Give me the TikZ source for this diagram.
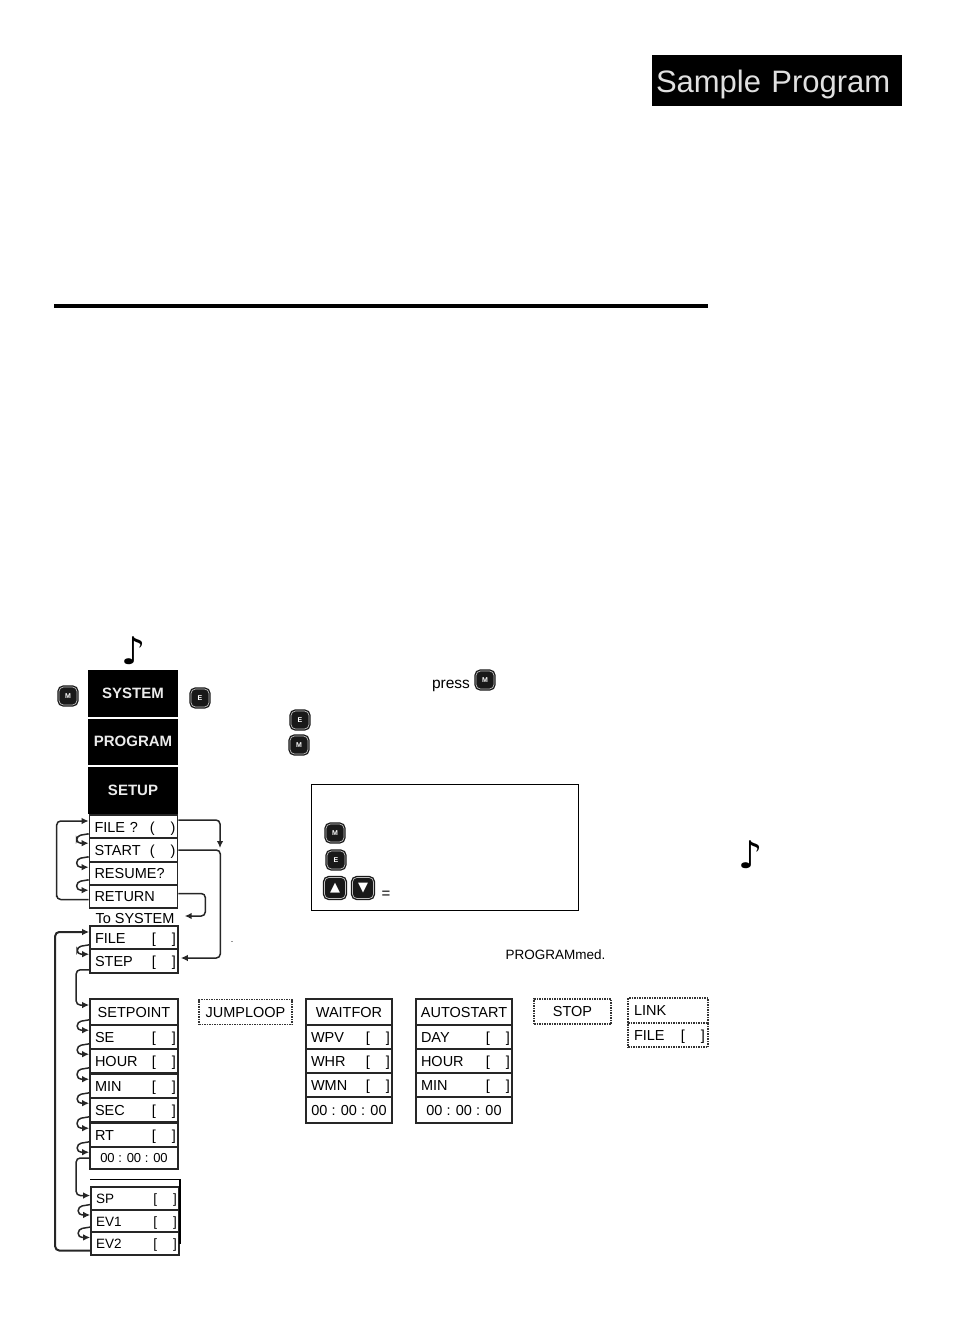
\documentclass[tikz,border=0pt]{standalone}
\usepackage{fontspec}
\setmainfont{Liberation Sans}
\newfontfamily\symbfont{DejaVu Sans}
\usetikzlibrary{arrows.meta,positioning,calc}
\newcommand{\fsz}[1]{\fontsize{#1}{#1}\selectfont}
\newcommand{\rowtxt}[1]{\hspace*{3pt}#1\hfill[\hspace{16pt}]}
\tikzset{
  menuarr/.style={-{Latex[length=7pt,width=6.5pt]}, line width=1.5pt, draw=black!85, rounded corners=4pt},
  blackbox/.style={fill=black, text=black!8, minimum width=90pt, inner sep=0pt, font=\fsz{15}\bfseries},
  rowbox/.style={draw=black!85, line width=1.6pt, fill=white, minimum width=88pt, minimum height=24pt, inner sep=0pt},
  valbox/.style={rowbox, text width=84pt, text height=11pt, text depth=1pt, font=\fsz{14.5}},
  headbox/.style={rowbox, align=center, font=\fsz{14.5}},
  dotbox/.style={draw=black!80, line width=1.5pt, densely dotted, minimum height=25pt, inner sep=0pt, font=\fsz{14.5}},
  keycap/.style={draw=black!90, double=black!25, double distance=0.7pt, line width=1.3pt, fill=black!90, rounded corners=4.5pt, minimum size=18pt, inner sep=0pt, text=white, font=\fsz{7}\bfseries},
  plain/.style={inner sep=0pt, text=black},
}
\begin{document}
\begin{tikzpicture}[x=1pt, y=-1pt]
  \useasboundingbox (0,0) rectangle (961,1332);
  \node[fill=black, text=black!12, minimum width=250pt, minimum height=51pt, inner sep=0pt, text width=242pt, text height=24pt, text depth=0pt, font=\fsz{31}] (title) at (777,80.5) {Sample Program};
  \coordinate (ruleL) at (54,306);
  \coordinate (ruleR) at (708,306);
  \draw[line width=4pt] (ruleL) -- (ruleR);

  \node[plain, font=\symbfont\fsz{38}] (noteA) at (134,651) {♪};
  \node[plain, font=\symbfont\fsz{38}] (noteB) at (751,855) {♪};

  \node[blackbox, minimum height=46.5pt] (system) at (133,693.25) {SYSTEM};
  \node[blackbox, minimum height=46.5pt] (program) at (133,741.75) {PROGRAM};
  \node[blackbox, minimum height=47pt] (setup) at (133,790) {SETUP};
  \node[keycap] (keyM) at (68,696) {M};
  \node[keycap] (keyE) at (200,698) {E};

  \foreach \nm/\lbl/\yy in {fileq/{FILE ?}/827, start/START/850} {
    \node[valbox] (\nm) at (133.5,\yy) {\hspace*{3pt}\lbl\hfill(\hspace{16pt})};
  }
  \node[valbox, minimum height=23pt] (resume) at (133.5,873.5) {\hspace*{3pt}RESUME?};
  \node[valbox, minimum height=23pt] (return) at (133.5,896.5) {\hspace*{3pt}RETURN};
  \node[plain, font=\fsz{14.5}] (tosys) at (135,918) {To SYSTEM};

  \foreach \nm/\lbl/\yy in {file/FILE/938, stepval/STEP/961} {
    \node[valbox] (\nm) at (134,\yy) {\rowtxt{\lbl}};
  }

  \node[headbox, minimum height=26pt] (setpoint) at (134,1012) {SETPOINT};
  \foreach \nm/\lbl/\yy in {se/SE/1037, hour/HOUR/1061, min/MIN/1086, sec/SEC/1110, rt/RT/1135} {
    \node[valbox] (\nm) at (134,\yy) {\rowtxt{\lbl}};
  }
  \node[headbox, minimum height=22pt, font=\fsz{13}] (time) at (134,1158) {00 : 00 : 00};

  \foreach \nm/\lbl/\yy in {sp/SP/1198.5, evA/EV1/1221, evB/EV2/1243.5} {
    \node[valbox, minimum height=22.5pt, font=\fsz{13.5}] (\nm) at (135,\yy) {\rowtxt{\lbl}};
  }
  \draw[line width=1.8pt] ([yshift=7pt]sp.north west) -| (evB.east);

  \node[headbox, minimum width=86pt, minimum height=26pt] (waitfor) at (349,1012) {WAITFOR};
  \foreach \nm/\lbl/\yy in {wpv/WPV/1037, whr/WHR/1061, wmn/WMN/1085} {
    \node[valbox, minimum width=86pt, text width=82pt] (\nm) at (349,\yy) {\rowtxt{\lbl}};
  }
  \node[headbox, minimum width=86pt, minimum height=26pt] (waittime) at (349,1110) {00 : 00 : 00};

  \node[headbox, minimum width=96pt, minimum height=26pt] (autostart) at (464,1012) {AUTOSTART};
  \foreach \nm/\lbl/\yy in {day/DAY/1037, ahour/HOUR/1061, amin/MIN/1085} {
    \node[valbox, minimum width=96pt, text width=92pt] (\nm) at (464,\yy) {\rowtxt{\lbl}};
  }
  \node[headbox, minimum width=96pt, minimum height=26pt] (autotime) at (464,1110) {00 : 00 : 00};

  \node[dotbox, minimum width=93pt] (jumploop) at (245.5,1012) {JUMPLOOP};
  \node[dotbox, minimum width=77pt] (stop) at (572.5,1011.5) {STOP};
  \node[dotbox, minimum width=80pt, text width=74pt, text height=11pt, text depth=1pt] (link) at (668,1010.5) {\hspace*{3pt}LINK};
  \node[dotbox, minimum width=80pt, minimum height=24pt, text width=74pt, text height=11pt, text depth=1pt] (linkfile) at (668,1035) {\rowtxt{FILE}};

  \node[plain, font=\fsz{15.5}] (press) at (451,686) {press};
  \node[keycap] (keyP) at (485,680) {M};
  \node[keycap] (keyF) at (300,720) {E};
  \node[keycap] (keyG) at (299,745) {M};

  \node[draw=black, line width=0.9pt, minimum width=267pt, minimum height=126pt, inner sep=0pt] (frame) at (444.5,847) {};
  \node[keycap] (keyH) at (335,833) {M};
  \node[keycap] (keyI) at (336,860) {E};
  \node[keycap, minimum size=21pt, font=\symbfont\fsz{13}] (keyUp) at (335,888) {▲};
  \node[keycap, minimum size=21pt, font=\symbfont\fsz{13}] (keyDn) at (363,888) {▼};
  \node[plain, font=\fsz{15}] (equal) at (386,895) {=};

  \node[plain, font=\fsz{13.5}] (programmed) at (555.5,955) {PROGRAMmed.};
  \node[plain, font=\fsz{9}] (speck) at (232,942) {.};

  \foreach \a/\b in {fileq/start, start/resume, resume/return, file/stepval,
    setpoint/se, se/hour, hour/min, min/sec, sec/rt, rt/time, sp/evA, evA/evB} {
    \draw[menuarr] ([yshift=6pt]\a.south west) -- ++(-12,2) |- ([yshift=-6pt]\b.north west);
  }
  \draw[menuarr] ([yshift=-3pt]return.west) -| ++(-32,0) |- ([yshift=6pt]fileq.west);
  \draw[menuarr, line width=2pt] ([yshift=-7pt]evB.west) -- ++(-35,0) |- ([yshift=6pt]file.west);
  \draw[menuarr] ([yshift=4pt]stepval.south west) -- ++(-13,0) |- ([yshift=7pt]setpoint.west);
  \draw[menuarr] (time.west) -- ++(-13,0) |- ([yshift=3pt]sp.west);

  \coordinate (fileEnd) at (220,848);
  \draw[menuarr] ([yshift=7pt]fileq.east) -| (fileEnd);
  \draw[menuarr] (start.east) -- ++(42,0) |- ([yshift=3pt,xshift=2pt]stepval.east);
  \draw[menuarr] ([yshift=3pt]return.east) -- ++(27,0) |- ([xshift=10pt,yshift=2pt]tosys.east);
\end{tikzpicture}
\end{document}
